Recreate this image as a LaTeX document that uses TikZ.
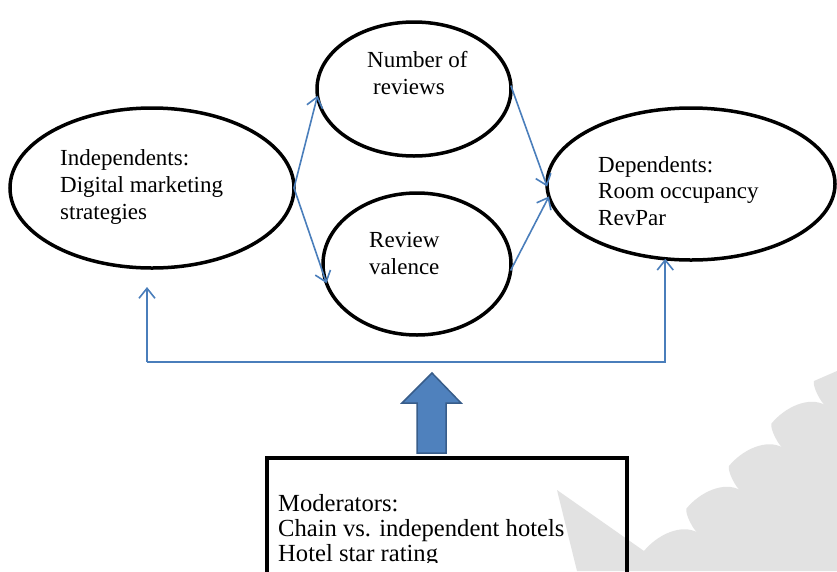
\documentclass[tikz,border=0pt]{standalone}
\usepackage{fontspec}
\setmainfont{Liberation Serif}
\usetikzlibrary{arrows.meta,shapes.geometric}
\definecolor{lnblue}{HTML}{4A7EBB}
\definecolor{arrfill}{HTML}{4F81BD}
\definecolor{arrdraw}{HTML}{385D8A}
\definecolor{wmgray}{HTML}{E2E2E2}
\begin{document}
\begin{tikzpicture}[x=1pt,y=-1pt,
  oval/.style={draw=black, line width=3.5pt, ellipse, inner sep=0pt, outer sep=0pt},
  lbl/.style={anchor=base west, align=left, inner sep=0pt, font=\fontsize{23}{27}\selectfont},
  boxlbl/.style={anchor=base west, align=left, inner sep=0pt, font=\fontsize{24.6}{25}\selectfont},
  link/.style={draw=lnblue, line width=1.6pt, -{Straight Barb[length=10pt,width=16pt]}},
  blockarrow/.style={fill=arrfill, draw=arrdraw, line width=1.5pt, line join=miter}
  ]
\useasboundingbox (0,0) rectangle (837,571);
\fill[white] (0,0) rectangle (837,571);
% faint watermark
\fill[wmgray] (557,490) -- (644,551)
  .. controls (657.5,534.5) and (681.5,523.5) .. (697.5,532.5)
  .. controls (694,531) and (684.5,513.5) .. (686.5,508.5)
  .. controls (700,492) and (724,481) .. (740,490)
  .. controls (736.5,488.5) and (727,471) .. (729,466)
  .. controls (742.5,449.5) and (766.5,438.5) .. (782.5,447.5)
  .. controls (779,446) and (769.5,428.5) .. (771.5,423.5)
  .. controls (785,407) and (809,396) .. (825,405)
  .. controls (821.5,403.5) and (812,386) .. (814,381)
  -- (837,371) -- (837,571) -- (577,571) -- cycle;

% ellipses
\node[oval, minimum width=284pt, minimum height=160pt] (L) at (152,188) {};
\node[oval, minimum width=194pt, minimum height=134pt] (T) at (414,89) {};
\node[oval, minimum width=188pt, minimum height=142pt] (B) at (417,264) {};
\node[oval, minimum width=288pt, minimum height=152pt] (R) at (691,184) {};

% labels (anchored at the baseline of the last line)
\node[lbl] (Lt) at (60,219) {Independents:\\Digital marketing\\strategies};
\node[lbl] (Tt) at (367,94) {Number of\\\hspace*{6pt}reviews};
\node[lbl] (Bt) at (369,274) {Review\\valence};
\node[lbl, font=\fontsize{23}{26.5}\selectfont] (Rt) at (598,225) {Dependents:\\Room occupancy\\RevPar};

% connectors
\draw[link] (L.east) -- (T.184);
\draw[link] (L.east) -- (B.192);
\draw[link] (T.2) -- (R.181);
\draw[link] (B.-4) -- (R.185);

\coordinate (bl) at (147,362);
\coordinate (lt) at (147,287);
\draw[link] (bl) -- (lt);
\draw[link] (bl) -| (R.251);

% block arrow
\draw[blockarrow] (432,373) -- (461,403) -- (446,403) -- (446,453) -- (417,453) -- (417,403) -- (402,403) -- cycle;

% moderators box
\node[draw=black, line width=3.5pt, minimum width=360pt, minimum height=140pt, anchor=north west, inner sep=0pt, outer sep=0pt] (M) at (267,458) {};
\begin{scope}
\clip (267,440) rectangle (627,562);
\node[boxlbl] (Mt) at (278,561) {Moderators:\\Chain vs. independent hotels\\Hotel star rating};
\end{scope}
\end{tikzpicture}
\end{document}
